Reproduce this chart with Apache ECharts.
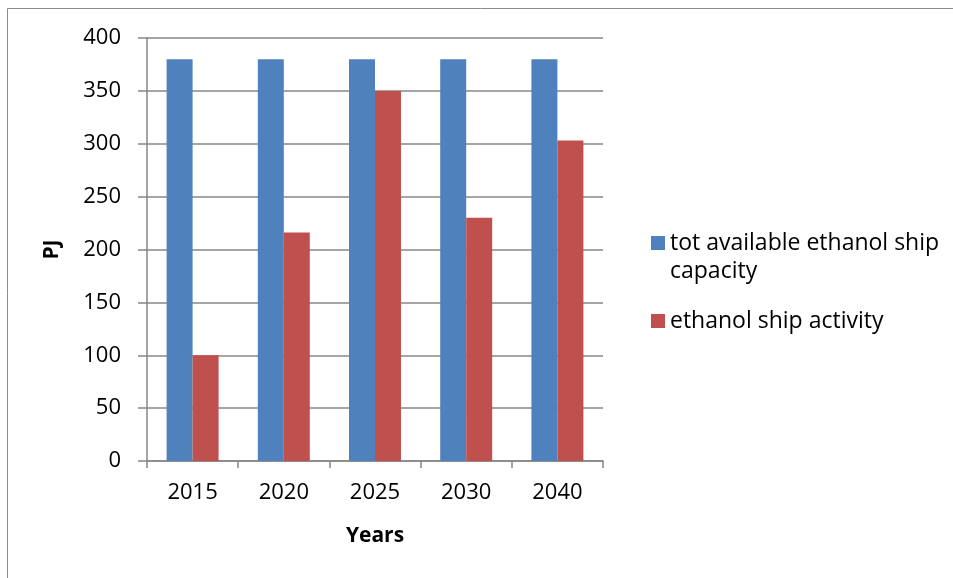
<!DOCTYPE html>
<html><head><meta charset="utf-8">
<script src="https://cdn.jsdelivr.net/npm/echarts@6/dist/echarts.min.js"></script>
<style>html,body{margin:0;padding:0;background:#fff}#c{width:953px;height:578px}</style>
</head><body><div id="c"></div>
<script>
const categories = ['2015', '2020', '2025', '2030', '2040'];
const capacity = [380, 380, 380, 380, 380];
const activity = [100, 216, 350, 230, 303];
const seriesNames = ['tot available ethanol ship capacity', 'ethanol ship activity'];
const yTicks = { min: 0, max: 400, interval: 50 };

const FONT = '"Open Sans", sans-serif';
const chart = echarts.init(document.getElementById('c'));
chart.setOption({
  animation: false,
  backgroundColor: '#fff',
  graphic: [{
    type: 'rect', shape: { x: 7.5, y: 8.5, width: 1000, height: 1000 },
    style: { fill: 'none', stroke: '#8c8c8c', lineWidth: 1 }, silent: true, z: -1
  }],
  grid: { left: 147, right: 350, top: 38, bottom: 117 },
  legend: [{
    data: [seriesNames[0]], orient: 'vertical', left: 646, top: 196,
    itemWidth: 14, itemHeight: 14, icon: 'rect',
    formatter: () => '\ntot available ethanol ship\ncapacity',
    textStyle: { fontFamily: FONT, fontSize: 23, color: '#000', lineHeight: 28 }
  }, {
    data: [seriesNames[1]], orient: 'vertical', left: 646, top: 302,
    itemWidth: 14, itemHeight: 14, icon: 'rect',
    textStyle: { fontFamily: FONT, fontSize: 23, color: '#000', lineHeight: 28 }
  }],
  xAxis: {
    type: 'category', data: categories,
    name: 'Years', nameLocation: 'middle', nameGap: 65,
    nameTextStyle: { fontFamily: FONT, fontSize: 21, fontWeight: 'bold', color: '#000' },
    axisLine: { lineStyle: { color: '#868686', width: 1.5 } },
    axisTick: { show: true, length: 7, alignWithLabel: false, lineStyle: { color: '#868686', width: 1.5 } },
    axisLabel: { fontFamily: FONT, fontSize: 22, color: '#000', margin: 21 }
  },
  yAxis: {
    type: 'value', min: yTicks.min, max: yTicks.max, interval: yTicks.interval,
    name: 'PJ', nameLocation: 'middle', nameGap: 84, nameRotate: 90,
    nameTextStyle: { fontFamily: FONT, fontSize: 21, fontWeight: 'bold', color: '#000' },
    axisLine: { show: true, lineStyle: { color: '#868686', width: 1.5 } },
    axisTick: { show: true, length: 9, lineStyle: { color: '#868686', width: 1.5 } },
    axisLabel: { fontFamily: FONT, fontSize: 22, color: '#000', margin: 26 },
    splitLine: { lineStyle: { color: '#878787', width: 1.5 } }
  },
  series: [{
    name: seriesNames[0], type: 'bar', data: capacity,
    itemStyle: { color: '#4F81BD' }, barGap: '0%', barCategoryGap: '43%'
  }, {
    name: seriesNames[1], type: 'bar', data: activity,
    itemStyle: { color: '#C0504D' }, barGap: '0%', barCategoryGap: '43%'
  }]
});
</script></body></html>
